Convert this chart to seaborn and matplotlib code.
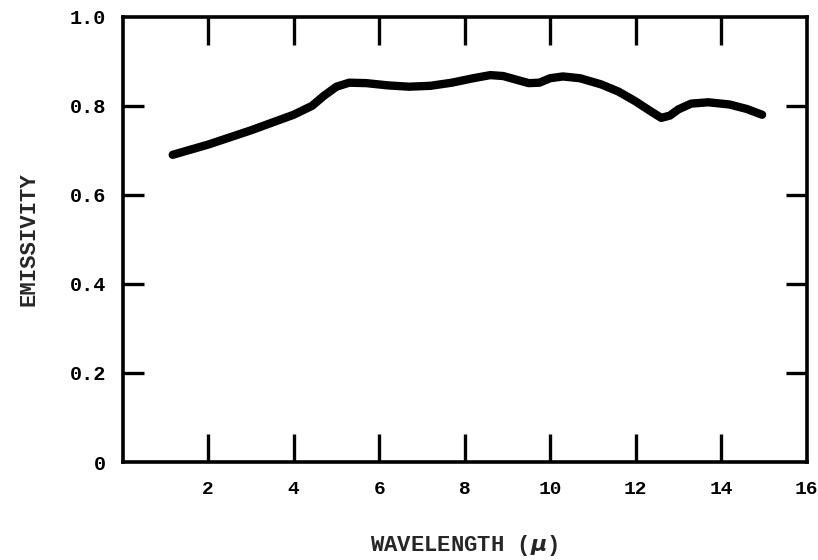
import matplotlib
matplotlib.use("Agg")
import matplotlib.pyplot as plt
import seaborn as sns
import pandas as pd

wavelength = [1.17, 2.0, 3.0, 4.0, 4.43, 4.7, 5.0, 5.3, 5.7, 6.2, 6.7, 7.2, 7.7, 8.2, 8.6, 8.9, 9.2, 9.5, 9.75, 10.0, 10.3, 10.7, 11.2, 11.6, 12.0, 12.35, 12.6, 12.8, 13.0, 13.3, 13.7, 14.2, 14.6, 14.96]
emissivity = [0.690, 0.713, 0.745, 0.780, 0.800, 0.822, 0.843, 0.852, 0.851, 0.846, 0.843, 0.845, 0.852, 0.862, 0.869, 0.867, 0.859, 0.851, 0.852, 0.862, 0.866, 0.862, 0.848, 0.832, 0.810, 0.788, 0.773, 0.778, 0.792, 0.805, 0.808, 0.803, 0.793, 0.780]
x_ticks = [2, 4, 6, 8, 10, 12, 14, 16]
y_ticks = [0, 0.2, 0.4, 0.6, 0.8, 1.0]
y_tick_labels = ["0", "0.2", "0.4", "0.6", "0.8", "1.0"]

sns.set_style("white")
plt.rcParams["font.family"] = ["Liberation Mono", "DejaVu Sans"]
plt.rcParams["font.weight"] = "bold"

df = pd.DataFrame({"wavelength": wavelength, "emissivity": emissivity})

fig = plt.figure(figsize=(8.18, 5.6), dpi=100)
ax = fig.add_axes([0.150, 0.175, 0.836, 0.795])
sns.lineplot(data=df, x="wavelength", y="emissivity", ax=ax, color="black",
             linewidth=6.0, solid_capstyle="round", solid_joinstyle="round")

ax.set_xlim(0, 16)
ax.set_ylim(0, 1.0)
ax.set_xticks(x_ticks)
ax.set_xticklabels([str(t) for t in x_ticks], fontsize=14, fontweight="bold")
ax.set_yticks(y_ticks)
ax.set_yticklabels(y_tick_labels, fontsize=14.5, fontweight="bold")

ax.tick_params(axis="x", direction="in", length=20, width=2.4, pad=14,
               top=True, bottom=True, colors="black")
ax.tick_params(axis="y", direction="in", length=15, width=2.4, pad=12,
               left=True, right=True, colors="black")
for t in [ax.xaxis.get_major_ticks()[-1]]:
    t.tick1line.set_visible(False)
    t.tick2line.set_visible(False)
for t in [ax.yaxis.get_major_ticks()[0], ax.yaxis.get_major_ticks()[-1]]:
    t.tick1line.set_visible(False)
    t.tick2line.set_visible(False)

for s in ax.spines.values():
    s.set_visible(True)
    s.set_color("black")
    s.set_linewidth(2.6)

ax.set_xlabel("WAVELENGTH ($\\mu$)", fontsize=16, fontweight="bold", labelpad=25)
ax.set_ylabel("EMISSIVITY", fontsize=16, fontweight="bold", labelpad=22)

fig.savefig("out.png", dpi=100, facecolor="white")
